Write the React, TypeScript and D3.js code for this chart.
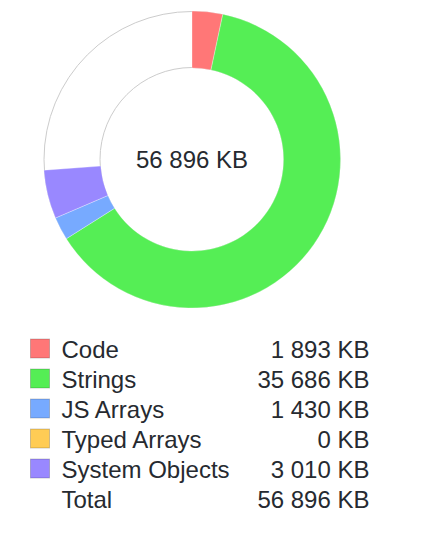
import React from "react";
import * as d3 from "d3";

const categories = ["Code", "Strings", "JS Arrays", "Typed Arrays", "System Objects"];
const values = [1893, 35686, 1430, 0, 3010];
const colors = ["#f77", "#5e5", "#7af", "#fc5", "#98f"];
const totalValue = 56896;
const unit = "KB";

const W = 434;
const H = 536;
const cx = 192;
const cy = 159.5;
const outerR = 148.5;
const innerR = 91.5;

const fmt = (v: number) => {
  const s = String(Math.round(v));
  return s.replace(/\B(?=(\d{3})+(?!\d))/g, " ") + " " + unit;
};

export default function App() {
  const pieGen = d3
    .pie<number>()
    .sort(null)
    .value((d) => d);
  const rest = totalValue - d3.sum(values);
  const arcsData = pieGen([...values, rest]);
  const arcGen = d3.arc<d3.PieArcDatum<number>>().innerRadius(innerR).outerRadius(outerR);

  const rowY = d3.scaleLinear().domain([0, 1]).range([358, 388]);
  const font = "Helvetica, 'Liberation Sans', Arial, sans-serif";
  const textColor = "#262a30";
  const rows = [
    ...categories.map((c, i) => ({ label: c, value: values[i], color: colors[i] as string | null })),
    { label: "Total", value: totalValue, color: null as string | null },
  ];

  return (
    <div style={{ position: "absolute", left: 0, top: 0 }}>
      <svg width={W} height={H} style={{ display: "block" }}>
        <rect width={W} height={H} fill="#fff" />
        <g transform={`translate(${cx},${cy})`}>
          <circle r={outerR - 0.5} fill="none" stroke="#ccc" strokeWidth={1} />
          <circle r={innerR + 0.5} fill="none" stroke="#ccc" strokeWidth={1} />
          {arcsData.slice(0, values.length).map((a, i) =>
            a.value > 0 ? (
              <path key={i} d={arcGen(a) || ""} fill={colors[i]} stroke="rgba(255,255,255,0.6)" strokeWidth={0.5} />
            ) : null
          )}
          <text
            x={0}
            y={168 - cy}
            textAnchor="middle"
            fontFamily={font}
            fontSize={24}
            fill={textColor}
          >
            {fmt(totalValue)}
          </text>
        </g>
        {rows.map((r, i) => {
          const y = rowY(i);
          return (
            <g key={r.label}>
              {r.color ? (
                <rect
                  x={30.5}
                  y={y - 19}
                  width={19}
                  height={19}
                  fill={r.color}
                  stroke="rgba(0,0,0,0.2)"
                  strokeWidth={1}
                />
              ) : null}
              <text x={61.5} y={y} fontFamily={font} fontSize={24} fill={textColor}>
                {r.label}
              </text>
              <text x={369.5} y={y} textAnchor="end" fontFamily={font} fontSize={24} fill={textColor}>
                {fmt(r.value)}
              </text>
            </g>
          );
        })}
      </svg>
    </div>
  );
}
